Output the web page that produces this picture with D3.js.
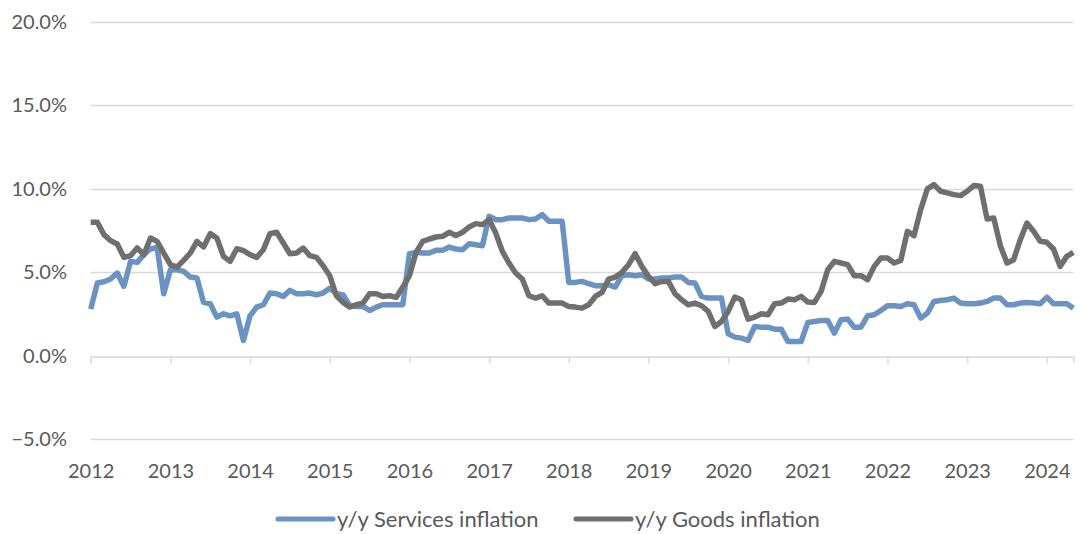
<!DOCTYPE html>
<html>
<head>
<meta charset="utf-8">
<script src="https://cdn.jsdelivr.net/npm/d3@7"></script>
<style>
  body { margin: 0; background: #fff; }
  svg text { font-family: Lato, "Open Sans", sans-serif; fill: #595959; }
</style>
</head>
<body>
<div id="chart"></div>
<script>
const WIDTH = 1081
const HEIGHT = 534

// monthly, Jan 2012 .. May 2024
const startYear = 2012
const yearLabels = d3.range(2012, 2025)
const yTicks = [-5, 0, 5, 10, 15, 20]

const services = [
  2.8, 4.36, 4.44, 4.6, 4.96, 4.16, 5.66, 5.6, 6.06, 6.4, 6.5, 3.72,
  5.16, 5.16, 5.06, 4.72, 4.66, 3.2, 3.12, 2.32, 2.52, 2.4, 2.52, 0.92,
  2.4, 2.92, 3.06, 3.76, 3.72, 3.56, 3.92, 3.72, 3.72, 3.76, 3.66, 3.76,
  4.05, 3.72, 3.66, 3.0, 2.96, 2.96, 2.72, 2.92, 3.06, 3.06, 3.06, 3.06,
  6.12, 6.2, 6.16, 6.16, 6.32, 6.32, 6.52, 6.4, 6.36, 6.72, 6.66, 6.6,
  8.36, 8.16, 8.16, 8.26, 8.26, 8.26, 8.16, 8.2, 8.46, 8.06, 8.06, 8.06,
  4.4, 4.4, 4.46, 4.32, 4.2, 4.2, 4.26, 4.12, 4.8, 4.86, 4.8, 4.86,
  4.6, 4.6, 4.66, 4.66, 4.72, 4.72, 4.4, 4.36, 3.56, 3.46, 3.46, 3.46,
  1.32, 1.12, 1.06, 0.92, 1.76, 1.72, 1.72, 1.6, 1.6, 0.86, 0.86, 0.86,
  2.0, 2.06, 2.12, 2.12, 1.36, 2.16, 2.2, 1.72, 1.72, 2.4, 2.46, 2.72,
  3.0, 3.0, 2.96, 3.12, 3.06, 2.26, 2.56, 3.26, 3.32, 3.36, 3.46, 3.16,
  3.12, 3.12, 3.16, 3.26, 3.46, 3.46, 3.06, 3.06, 3.16, 3.2, 3.16, 3.12,
  3.52, 3.12, 3.12, 3.12, 2.86
]

const goods = [
  8.0, 8.0, 7.26, 6.9, 6.7, 5.9, 6.0, 6.46, 6.06, 7.06, 6.86, 6.16,
  5.46, 5.32, 5.72, 6.16, 6.86, 6.52, 7.32, 7.06, 5.96, 5.66, 6.42, 6.3,
  6.06, 5.9, 6.36, 7.32, 7.4, 6.76, 6.12, 6.16, 6.46, 6.0, 5.9, 5.4,
  4.8, 3.6, 3.2, 2.92, 3.06, 3.16, 3.72, 3.72, 3.56, 3.6, 3.5, 4.12,
  4.8, 6.2, 6.86, 7.0, 7.12, 7.16, 7.4, 7.2, 7.4, 7.72, 7.92, 7.86,
  8.16, 7.36, 6.26, 5.56, 4.96, 4.6, 3.6, 3.46, 3.6, 3.16, 3.16, 3.16,
  2.96, 2.92, 2.86, 3.06, 3.56, 3.8, 4.6, 4.72, 5.0, 5.46, 6.12, 5.36,
  4.76, 4.32, 4.46, 4.46, 3.72, 3.36, 3.06, 3.16, 3.0, 2.66, 1.76, 2.06,
  2.66, 3.52, 3.36, 2.2, 2.32, 2.52, 2.46, 3.12, 3.16, 3.4, 3.36, 3.56,
  3.22, 3.2, 3.86, 5.16, 5.66, 5.56, 5.46, 4.8, 4.8, 4.56, 5.36, 5.86,
  5.86, 5.56, 5.72, 7.46, 7.2, 8.76, 10.0, 10.26, 9.86, 9.76, 9.66, 9.6,
  9.86, 10.2, 10.16, 8.2, 8.26, 6.6, 5.56, 5.76, 6.96, 7.96, 7.46, 6.86,
  6.8, 6.4, 5.36, 5.96, 6.2
]

const seriesNames = ['y/y Services inflation', 'y/y Goods inflation']
const seriesColors = ['#6b93c2', '#6f6f6f']

const svg = d3.select('#chart').append('svg')
  .attr('width', WIDTH)
  .attr('height', HEIGHT)

const x = d3.scaleLinear()
  .domain([0, services.length - 1])
  .range([90.7, 1073.4])

const y = d3.scaleLinear()
  .domain([-5, 20])
  .range([439.3, 22])

// gridlines
svg.append('g')
  .selectAll('line')
  .data(yTicks.filter(d => d !== 0))
  .enter().append('line')
  .attr('x1', x.range()[0])
  .attr('x2', x.range()[1])
  .attr('y1', d => Math.round(y(d)) + 0.5)
  .attr('y2', d => Math.round(y(d)) + 0.5)
  .attr('stroke', '#d9d9d9')
  .attr('stroke-width', 1.5)

// y labels
svg.append('g')
  .selectAll('text')
  .data(yTicks)
  .enter().append('text')
  .attr('x', 67)
  .attr('y', d => y(d))
  .attr('dy', '0.35em')
  .attr('text-anchor', 'end')
  .attr('font-size', 20)
  .text(d => d3.format('.1f')(d) + '%')

// x axis along 0%
const xAxis = d3.axisBottom(x)
  .tickValues(yearLabels.map(yr => (yr - startYear) * 12))
  .tickSize(7)
  .tickFormat(d => startYear + d / 12)

const gx = svg.append('g')
  .attr('transform', `translate(0,${Math.round(y(0)) + 0.5})`)
  .call(xAxis)

gx.select('.domain').attr('stroke', '#d9d9d9').attr('stroke-width', 1.5)
gx.selectAll('.tick line').attr('stroke', '#d9d9d9').attr('stroke-width', 1.5)
gx.selectAll('.tick text')
  .attr('y', 0)
  .attr('dy', 0)
  .attr('transform', `translate(0,${477 - Math.round(y(0))})`)
  .attr('font-size', 20)
  .attr('font-family', 'Lato, sans-serif')
  .attr('fill', '#595959')

// lines
const line = d3.line()
  .x((d, i) => x(i))
  .y(d => y(d))

svg.append('g')
  .selectAll('path')
  .data([services, goods])
  .enter().append('path')
  .attr('d', line)
  .attr('fill', 'none')
  .attr('stroke', (d, i) => seriesColors[i])
  .attr('stroke-width', 5.5)
  .attr('stroke-linejoin', 'round')

// legend
const legendX = [278, 576]
const legend = svg.append('g')
  .selectAll('g')
  .data(seriesNames)
  .enter().append('g')
  .attr('transform', (d, i) => `translate(${legendX[i]},519)`)

legend.append('line')
  .attr('x1', 0)
  .attr('x2', 55)
  .attr('stroke', (d, i) => seriesColors[i])
  .attr('stroke-width', 5)
  .attr('stroke-linecap', 'round')

legend.append('text')
  .attr('x', 59)
  .attr('dy', '0.35em')
  .attr('font-size', 22)
  .text(d => d)
</script>
</body>
</html>
